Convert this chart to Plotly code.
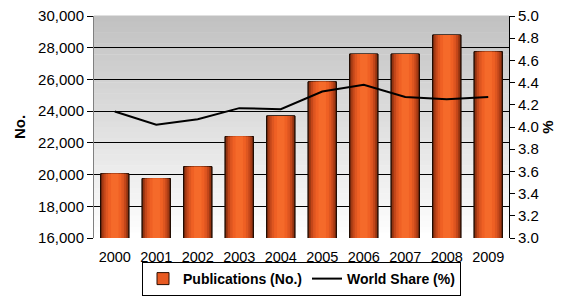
import plotly.graph_objects as go

years = ["2000", "2001", "2002", "2003", "2004", "2005", "2006", "2007", "2008", "2009"]
publications = [20050, 19750, 20500, 22400, 23700, 25850, 27600, 27600, 28800, 27750]
world_share = [4.14, 4.02, 4.07, 4.17, 4.16, 4.32, 4.38, 4.27, 4.25, 4.27]

fig = go.Figure()

# legend carrier bar (hidden under shading layers)
fig.add_trace(go.Bar(
    x=years, y=publications, width=0.68,
    marker=dict(color="#e85a22", line=dict(color="#2a0f03", width=1)),
    name="Publications (No.)", showlegend=True, legendrank=1,
))

# cylinder-like bar shading: stacked overlays of narrowing width
layers = [
    (0.68, "#7a2a0e", True),
    (0.62, "#a03913", False),
    (0.54, "#c4471a", False),
    (0.44, "#de5620", False),
    (0.32, "#ef6024", False),
    (0.18, "#f56a2a", False),
]
for i, (w, c, edge) in enumerate(layers):
    fig.add_trace(go.Bar(
        x=years, y=publications, width=w,
        marker=dict(color=c, line=dict(color="#1a0a00" if edge else c, width=1 if edge else 0)),
        name="Publications (No.)", showlegend=False, hoverinfo="skip",
    ))

fig.add_trace(go.Scatter(
    x=years, y=world_share, yaxis="y2", mode="lines",
    line=dict(color="black", width=2), name="World Share (%)", legendrank=2,
))

# gradient background strips
n = 40
shapes = []
for k in range(n):
    t = k / n
    g0 = int(0xc0 + (0xff - 0xc0) * (1 - t))
    col = f"rgb({g0},{g0},{g0})"
    shapes.append(dict(type="rect", xref="paper", yref="paper", x0=0, x1=1,
                       y0=t, y1=t + 1 / n + 0.002, fillcolor=col, line=dict(width=0), layer="below"))

# page body has an 8px default margin, so the figure is sized to fit inside it
fig.update_layout(
    width=548, height=288,
    margin=dict(l=86, r=47, t=8, b=58, autoexpand=False),
    paper_bgcolor="white", plot_bgcolor="rgba(0,0,0,0)",
    barmode="overlay", shapes=shapes,
    font=dict(family="Liberation Sans, Arial, sans-serif", size=15, color="black"),
    showlegend=True,
    legend=dict(orientation="h", x=0.5, xanchor="center", yref="container", y=0.0, yanchor="bottom",
                bordercolor="black", borderwidth=1, font=dict(size=14, weight="bold"),
                itemwidth=30, tracegroupgap=0),
    xaxis=dict(showgrid=False, ticks="outside", ticklen=6, tickcolor="rgba(0,0,0,0)",
               showline=False, automargin=False, tickfont=dict(size=14.5)),
    yaxis=dict(range=[16000, 30000], dtick=2000, tickformat=",", showgrid=True,
               gridcolor="black", gridwidth=1, ticks="outside", ticklen=6, tickcolor="black",
               showline=True, linecolor="#808080", linewidth=1, zeroline=False, automargin=False,
               ticklabeloverflow="allow",
               title=dict(text="<b>No.</b>", standoff=8, font=dict(size=15))),
    yaxis2=dict(range=[3.0, 5.0], dtick=0.2, tickformat=".1f", overlaying="y", side="right",
                showgrid=False, ticks="outside", ticklen=5, tickcolor="black",
                showline=True, linecolor="black", linewidth=1, zeroline=False, automargin=False,
                ticklabeloverflow="allow",
                title=dict(text="<b>%</b>", standoff=4, font=dict(size=15))),
)

fig.write_html("out.html")
